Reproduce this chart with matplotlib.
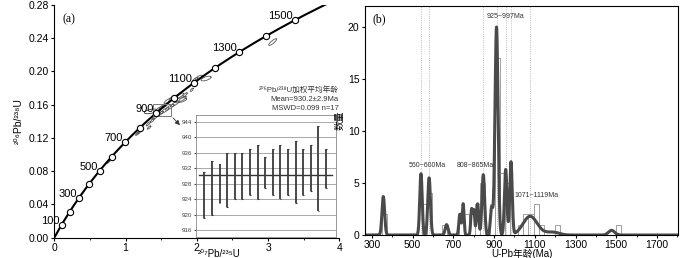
import matplotlib.pyplot as plt
import numpy as np

plt.rcParams['font.family'] = ['Liberation Sans', 'DejaVu Sans', 'Noto Sans CJK SC']
plt.rcParams['font.size'] = 7
plt.rcParams['axes.linewidth'] = 0.8

# ---------------- (a) 谐和图 ----------------
# 衰变常数 (1/a)
lam238 = 1.55125e-10
lam235 = 9.8485e-10
cc_ages = [100, 200, 300, 400, 500, 600, 700, 800, 900, 1000, 1100, 1200, 1300, 1400, 1500]
cc_labels = [100, 300, 500, 700, 900, 1100, 1300, 1500]

# 误差椭圆: 中心, 半宽, 相关系数
ell_x = [3.065, 2.13, 2.03, 1.975, 1.93, 1.765, 1.765, 1.67, 1.60, 1.53, 1.47, 1.44, 1.48, 1.55,
         1.62, 1.69, 1.80, 1.835, 1.41, 1.38, 1.32, 1.33, 1.19, 1.165, 0.78, 0.76, 0.39]
ell_y = [0.2354, 0.1915, 0.1925, 0.1900, 0.1780, 0.1654, 0.1710, 0.1680, 0.1650, 0.1580, 0.1550,
         0.1510, 0.1490, 0.1530, 0.1570, 0.1610, 0.1670, 0.1720, 0.1446, 0.1414, 0.1370, 0.1326,
         0.1270, 0.1250, 0.0933, 0.0913, 0.0533]
ell_sx = [0.055, 0.07, 0.05, 0.04, 0.02, 0.09, 0.05, 0.06, 0.06, 0.06, 0.05, 0.05, 0.05, 0.06,
          0.06, 0.06, 0.05, 0.03, 0.04, 0.03, 0.03, 0.025, 0.03, 0.025, 0.03, 0.025, 0.015]
ell_sy = [0.0040, 0.0028, 0.0030, 0.0030, 0.0020, 0.0030, 0.0030, 0.0035, 0.0035, 0.0035, 0.0030,
          0.0030, 0.0030, 0.0035, 0.0035, 0.0035, 0.0030, 0.0025, 0.0025, 0.0025, 0.0025, 0.0020,
          0.0025, 0.0020, 0.0025, 0.0020, 0.0015]
ell_rho = [0.85, 0.6, 0.7, 0.8, 0.7, 0.5, 0.8, 0.8, 0.85, 0.85, 0.85, 0.85, 0.85, 0.85,
           0.85, 0.85, 0.8, 0.8, 0.85, 0.85, 0.85, 0.8, 0.85, 0.85, 0.9, 0.9, 0.9]
open_ell = (1.353, 0.152, 0.09, 0.0028, 0.5)

# 加权平均年龄 (误差棒上下限, Ma)
wm_lo = [919, 920, 923, 922, 924, 924, 925, 924, 927, 925, 924, 925, 923, 925, 926, 921, 927]
wm_hi = [931, 934, 933, 936, 936, 936, 937, 938, 935, 937, 938, 937, 939, 937, 938, 943, 937]
wm_mean = 930.2

# ---------------- (b) 年龄分布 ----------------
bin_left = [350, 544, 569, 644, 729, 754, 779, 804, 829, 879, 904, 929, 954,
            1019, 1044, 1069, 1094, 1119, 1199, 1497]
bin_count = [2, 3, 4, 1, 2, 2, 2, 3, 5, 3, 17, 6, 5, 1, 2, 2, 3, 1, 1, 1]
# 概率密度曲线的各峰: 年龄, 高度, 宽度
peak_age = [356, 541, 581, 667, 732, 748, 790, 801, 819, 847, 888, 912, 957, 983, 1077, 1175, 1205, 1477]
peak_h = [3.7, 5.9, 5.5, 1.0, 2.0, 3.0, 2.5, 2.3, 3.0, 5.8, 2.6, 20.0, 6.3, 7.0, 1.8, 0.2, 0.12, 0.45]
peak_s = [6.5, 6, 6.5, 7, 5, 4.5, 4.5, 4, 5.5, 6.5, 6, 7.5, 6, 6, 35, 30, 25, 15]
mark_ages = [541, 581, 847, 912, 957, 983, 1077]
group_text = ['560~600Ma', '808~865Ma', '925~997Ma', '1071~1119Ma']
group_x = [574, 806, 957, 1109]
group_y = [6.35, 6.35, 20.7, 3.45]

fig = plt.figure(figsize=(7, 2.58), dpi=100)

# ---- panel a ----
ax = fig.add_axes([0.0776, 0.0787, 0.4071, 0.9019])
t = np.linspace(0, 1650e6, 500)
ax.plot(np.exp(lam235 * t) - 1, np.exp(lam238 * t) - 1, color='black', lw=1.5, zorder=3)
ta = np.array(cc_ages) * 1e6
ax.plot(np.exp(lam235 * ta) - 1, np.exp(lam238 * ta) - 1, 'o', ms=4.5, mfc='white',
        mec='black', mew=0.8, zorder=4)
for a in cc_labels:
    ax.annotate(str(a), (np.exp(lam235 * a * 1e6) - 1, np.exp(lam238 * a * 1e6) - 1),
                xytext=(-1.5, 3), textcoords='offset points', ha='right', va='center',
                fontsize=8, zorder=5)

tt = np.linspace(0, 2 * np.pi, 120)
for cx, cy, sx, sy, r in zip(ell_x, ell_y, ell_sx, ell_sy, ell_rho):
    ax.plot(cx + sx * np.cos(tt), cy + sy * (r * np.cos(tt) + np.sqrt(1 - r * r) * np.sin(tt)),
            color='#555555', lw=0.6, zorder=2)
cx, cy, sx, sy, r = open_ell
ax.fill(cx + sx * np.cos(tt), cy + sy * (r * np.cos(tt) + np.sqrt(1 - r * r) * np.sin(tt)),
        facecolor='white', edgecolor='#333333', lw=0.6, zorder=2.5)

# 放大框与箭头
ax.add_patch(plt.Rectangle((1.385, 0.1466), 0.255, 0.0144, fill=False, ec='#777777', lw=0.7, zorder=3))
ax.annotate('', xy=(1.79, 0.133), xytext=(1.64, 0.1466),
            arrowprops=dict(arrowstyle='-|>', color='#333333', lw=0.6, mutation_scale=7))

ax.set_xlim(0, 4)
ax.set_ylim(0, 0.28)
ax.set_xticks([0, 1, 2, 3, 4])
ax.set_xticks(np.arange(0, 4.01, 0.5), minor=True)
ax.set_yticks(np.arange(0, 0.281, 0.04))
ax.set_yticklabels(['%.2f' % v for v in np.arange(0, 0.281, 0.04)])
ax.tick_params(direction='out', length=2.5, labelsize=7.5, pad=1.5)
ax.tick_params(axis='x', pad=1)
ax.tick_params(which='minor', length=1.5)
for s in ['top', 'right']:
    ax.spines[s].set_visible(False)
ax.set_xlabel('²⁰⁷Pb/²³⁵U', fontsize=7)
ax.xaxis.set_label_coords(0.58, -0.049)
ax.set_ylabel('²⁰⁶Pb/²³⁸U', fontsize=7.5, labelpad=3)
ax.text(0.03, 0.965, '(a)', transform=ax.transAxes, fontsize=8.5, family='Liberation Serif',
        va='top')

fig.text(0.484, 0.651, '²⁰⁶Pb/²³⁸U加权平均年龄', ha='right', va='center', fontsize=5.5,
         color='#333333')
fig.text(0.484, 0.616, 'Mean=930.2±2.9Ma', ha='right', va='center', fontsize=5.5, color='#333333')
fig.text(0.484, 0.578, 'MSWD=0.099 n=17', ha='right', va='center', fontsize=5.5, color='#333333')

# ---- inset ----
ai = fig.add_axes([0.28, 0.0814, 0.2, 0.4729])
for v in range(916, 945, 4):
    ai.axhline(v, color='#9a9a9a', lw=0.6, zorder=0)
xi = np.arange(len(wm_lo))
ai.vlines(xi, wm_lo, wm_hi, color='#3a3a3a', lw=1.3, zorder=3)
ai.hlines(wm_lo, xi - 0.12, xi + 0.12, color='#3a3a3a', lw=0.8, zorder=3)
ai.hlines(wm_hi, xi - 0.12, xi + 0.12, color='#3a3a3a', lw=0.8, zorder=3)
ai.plot([-0.7, 16.75], [wm_mean, wm_mean], color='#333333', lw=1.0, zorder=2)
ai.set_xlim(-1.09, 17.3)
ai.set_ylim(914.2, 945.8)
ai.set_yticks(range(916, 945, 4))
ai.set_xticks([])
ai.tick_params(axis='y', labelsize=4.5, length=1.5, pad=1, colors='#444444')
for s in ai.spines.values():
    s.set_color('#888888')
    s.set_linewidth(0.6)

# ---- panel b ----
bx = fig.add_axes([0.5214, 0.0891, 0.4471, 0.8888])
for a in mark_ages:
    bx.axvline(a, color='#a8a8a8', ls=':', lw=0.6, zorder=0)
bx.bar(bin_left, bin_count, width=25, align='edge', fill=False, edgecolor='#a0a0a0',
       lw=0.7, zorder=1)
ages = np.linspace(266, 1803, 3000)
pdp = np.zeros_like(ages)
for a, h, s in zip(peak_age, peak_h, peak_s):
    pdp += h * np.exp(-0.5 * ((ages - a) / s) ** 2)
bx.plot(ages, pdp, color='#4a4a4a', lw=2.2, zorder=2)
for txt, x, y in zip(group_text, group_x, group_y):
    bx.text(x, y, txt, ha='center', va='bottom', fontsize=5, color='#333333')

bx.set_xlim(266, 1803)
bx.set_ylim(0, 22.05)
bx.set_xticks(range(300, 1701, 200))
bx.set_xticks(range(300, 1801, 100), minor=True)
bx.set_yticks([0, 5, 10, 15, 20])
bx.tick_params(direction='out', length=2.5, labelsize=7.5, pad=1.5)
bx.tick_params(axis='x', pad=1)
bx.tick_params(which='minor', length=1.5)
bx.set_xlabel('U-Pb年龄(Ma)', fontsize=7)
bx.xaxis.set_label_coords(0.5, -0.061)
bx.set_ylabel('数量', fontsize=7, labelpad=2)
bx.text(0.025, 0.965, '(b)', transform=bx.transAxes, fontsize=8.5, family='Liberation Serif',
        va='top')

fig.savefig('out.png', dpi=100)
